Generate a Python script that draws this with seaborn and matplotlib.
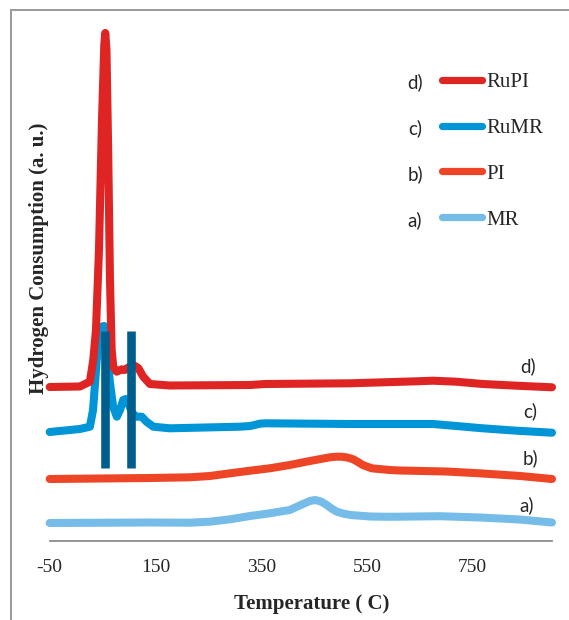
import numpy as np
import pandas as pd
import seaborn as sns
import matplotlib
matplotlib.use("Agg")
import matplotlib.pyplot as plt
from matplotlib.patches import Rectangle

# Temperature (°C) and H2 signal (a.u., stacked with offsets) for each sample
t_mr = [-50, 140, 215, 253, 291, 329, 366, 404, 429, 442, 452, 463, 474, 483, 493, 506, 519,
        556, 593, 612, 688, 763, 839, 900]
s_mr = [18, 18.5, 18.3, 19.3, 21.7, 25, 27.7, 31, 37, 40, 41, 39.5, 36, 32.5, 29.3, 27.3, 26,
        24.5, 24.2, 24.3, 24.8, 23.5, 21.5, 18.5]

t_pi = [-50, 140, 215, 253, 291, 329, 366, 404, 442, 480, 492, 502, 514, 524, 533, 542, 559,
        593, 612, 700, 763, 840, 900]
s_pi = [62, 63, 63.7, 65, 67.7, 70.3, 72.7, 76, 80, 83.7, 84.3, 84.3, 83.4, 81.7, 79, 76, 72.7,
        71, 70.5, 69.5, 67.7, 65, 62]

t_rumr = [-50, 7, 26, 32, 39, 45, 49, 53, 57, 64, 70, 77, 83, 89, 94, 100, 106, 114, 124, 133,
          146, 177, 310, 329, 340, 348, 360, 518, 675, 719, 769, 833, 900]
s_rumr = [109, 112, 114.3, 131, 181, 211, 214.5, 215, 196, 158, 134.3, 124.3, 131, 141, 142,
          136, 128, 124.3, 124.3, 119.3, 114.3, 112.7, 114.3, 115, 116.3, 117.4, 117.7, 117, 117,
          115, 112.7, 110.3, 108.3]

t_rupi = [-50, 7, 26, 32.4, 37.5, 43.2, 48.9, 53.2, 55.1, 57.4, 60.6, 64, 67.2, 70.2, 76.7,
          86.1, 92.3, 100, 108, 117.5, 126.9, 139.6, 177, 329, 357, 518, 644, 675, 719, 769, 833,
          900]
s_rupi = [154, 154.5, 159.3, 181, 211, 291, 421, 496, 508, 491, 391, 261, 191, 174.3, 169.3,
          171.7, 171, 174, 176, 173, 164.3, 157, 155.5, 156, 157, 157.7, 159.7, 160.3, 159.3, 157,
          155.3, 153.7]

# Reduction peak markers
peak_t = [55, 103]
peak_lo, peak_hi = 73, 210

samples = ["RuPI", "RuMR", "PI", "MR"]
tags = ["d)", "c)", "b)", "a)"]
colors = {"RuPI": "#DE2524", "RuMR": "#0095D6", "PI": "#EE4526", "MR": "#75BDE8"}
series = {"MR": (t_mr, s_mr), "PI": (t_pi, s_pi), "RuMR": (t_rumr, s_rumr), "RuPI": (t_rupi, s_rupi)}

sns.set_style("white")
plt.rcParams["font.family"] = ["Liberation Serif", "DejaVu Serif"]
plt.rcParams["axes.unicode_minus"] = False

W, H = 569, 620
fig = plt.figure(figsize=(W / 100, H / 100), dpi=100)
ax = fig.add_axes([49.7 / W, 1 - 541 / H, (552 - 49.7) / W, (541 - 20) / H])

handles = {}
for name in ["MR", "PI", "RuMR", "RuPI"]:
    t, s = series[name]
    df = pd.DataFrame({"T": t, "S": s})
    sns.lineplot(data=df, x="T", y="S", color=colors[name], lw=5.8, ax=ax,
                 solid_capstyle="round", solid_joinstyle="round", legend=False)
    handles[name] = ax.lines[-1]
    ax.lines[-1].set_clip_on(False)

ax.vlines(peak_t, peak_lo, peak_hi, color="#005E8C", lw=6.2, zorder=5)

ax.set_xlim(-50, 900)
ax.set_ylim(0, 521)
ax.set_xticks([-50, 150, 350, 550, 750])
ax.set_yticks([])
ax.set_xlabel("")
ax.set_ylabel("")
for side in ["left", "top", "right"]:
    ax.spines[side].set_visible(False)
ax.spines["bottom"].set_color("#8c8c8c")
ax.spines["bottom"].set_linewidth(1.3)
ax.tick_params(axis="x", direction="out", length=5, width=1.1, color="#8c8c8c",
               labelsize=14, pad=8)

# Curve tags on the right-hand side
tag_pos = {"d)": (528, 366), "c)": (530, 411), "b)": (530, 458), "a)": (527, 505)}
for tg, (px, py) in tag_pos.items():
    fig.text(px / W, 1 - py / H, tg, family="Lato", fontsize=13.5,
             ha="center", va="center")

leg = ax.legend([handles[n] for n in samples], samples, loc="upper left",
                bbox_to_anchor=(441.5 / W, 1 - 72.5 / H), bbox_transform=fig.transFigure,
                frameon=False, fontsize=15, handlelength=1.95, handletextpad=0.2,
                labelspacing=1.26, borderpad=0, borderaxespad=0)
for ln in leg.get_lines():
    ln.set_linewidth(5.2)
    ln.set_solid_capstyle("round")

fig.canvas.draw()
for txt, tg in zip(leg.get_texts(), tags):
    bb = txt.get_window_extent()
    yc = (bb.y0 + bb.y1) / 2
    fig.text(415 / W, yc / H, tg, family="Lato", fontsize=13.5, ha="center", va="center")

fig.text(312 / W, 1 - 604 / H, "Temperature ( C)", fontsize=15, fontweight="bold",
         ha="center", va="center")
fig.text(39 / W, 1 - 258 / H, "Hydrogen Consumption (a. u.)", fontsize=15,
         fontweight="bold", rotation=90, ha="center", va="center")

fig.add_artist(Rectangle((11 / W, -0.1), 1.2, 1 - 10 / H + 0.1, transform=fig.transFigure,
                         fill=False, ec="#9a9a9a", lw=1.4))

fig.savefig("out.png", dpi=100)
